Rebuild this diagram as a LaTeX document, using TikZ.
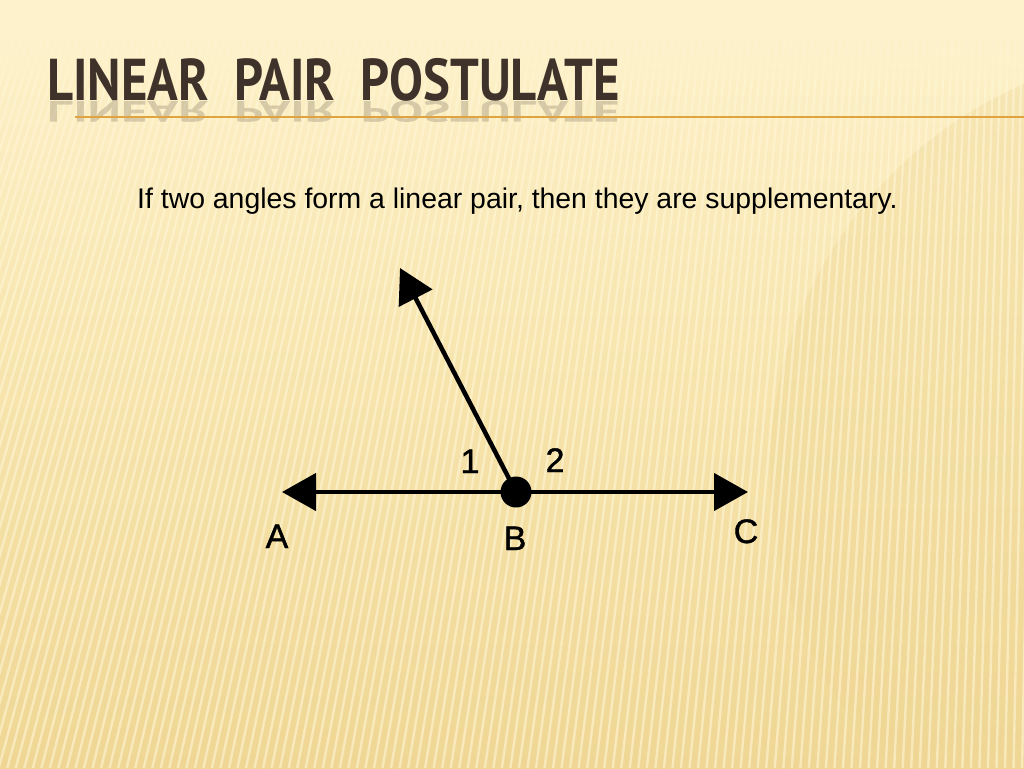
\documentclass[tikz,border=0pt]{standalone}
\usepackage{fontspec}
\usetikzlibrary{positioning,calc,arrows.meta}
\newfontfamily\titlefont[FakeStretch=0.86]{PT Sans Bold}
\newfontfamily\slidefont{Liberation Sans}
\newfontfamily\labelfont[FakeBold=1.2]{Liberation Sans}
\definecolor{paper}{HTML}{FDF2CB}
\definecolor{papermid}{HTML}{F7E4AC}
\definecolor{paperdark}{HTML}{EFD694}
\definecolor{stripe}{HTML}{FFF6D6}
\definecolor{titlebrown}{HTML}{3E322B}
\definecolor{rule}{HTML}{E0A340}
\tikzset{
  ray/.style={line width=4.5pt, -{Triangle[length=34pt,width=37pt]}},
  dot/.style={circle, fill=black, inner sep=0pt, minimum size=31pt},
  pointlabel/.style={font=\labelfont\fontsize{34}{34}\selectfont, anchor=base, inner sep=0pt},
}

\begin{document}
\begin{tikzpicture}[x=1pt, y=-1pt]
	\useasboundingbox (0,0) rectangle (1024,768);
	% background
	\shade[top color=paper, bottom color=paperdark, middle color=papermid] (0,0) rectangle (1024,768);
	\begin{scope}
		\clip (0,0) rectangle (1024,768);
		\fill[paperdark, opacity=0.35] (1190,470) circle (420);
		\foreach \i in {0,7,...,1100}
			\draw[stripe, line width=2.4pt, opacity=0.6] (\i,40) -- ({\i-240*(1-\i/1100)},768);
		\fill[paper] (0,0) rectangle (1024,40);
		\shade[top color=paper, bottom color=paper, middle color=paper, opacity=0.6] (0,40) rectangle (1024,80);
	\end{scope}

	% title
	\node[anchor=base west, inner sep=0pt, text=titlebrown,
	      font=\titlefont\fontsize{59}{59}\selectfont] (title) at (47,100) {LINEAR\ \ PAIR\ \ POSTULATE};
	\begin{scope}[opacity=0.2]
		\node[anchor=base west, inner sep=0pt, text=titlebrown, yscale=-0.5, transform shape,
		      font=\titlefont\fontsize{59}{59}\selectfont] (mirror) at (47,101) {LINEAR\ \ PAIR\ \ POSTULATE};
	\end{scope}
	\draw[rule, line width=1.5pt] (75,117) -- (1024,117);

	\node[anchor=base west, inner sep=0pt,
	      font=\slidefont\fontsize{28.4}{28.4}\selectfont] (stmt) at (137,208) {If two angles form a linear pair, then they are supplementary.};

	% figure
	\node[dot] (b) at (516,492) {};
	\coordinate (a) at (282,492);
	\coordinate (c) at (748,492);
	\coordinate (d) at (400,268);

	\draw[ray] (b.center) -- (a);
	\draw[ray] (b.center) -- (c);
	\draw[ray] (b.center) -- (d);

	\node[pointlabel] (la) at (277,548) {A};
	\node[pointlabel] (lb) at (515,550) {B};
	\node[pointlabel] (lc) at (746,543) {C};
	\node[pointlabel] (l1) at (470,473) {1};
	\node[pointlabel] (l2) at (555,472) {2};
\end{tikzpicture}
\end{document}
